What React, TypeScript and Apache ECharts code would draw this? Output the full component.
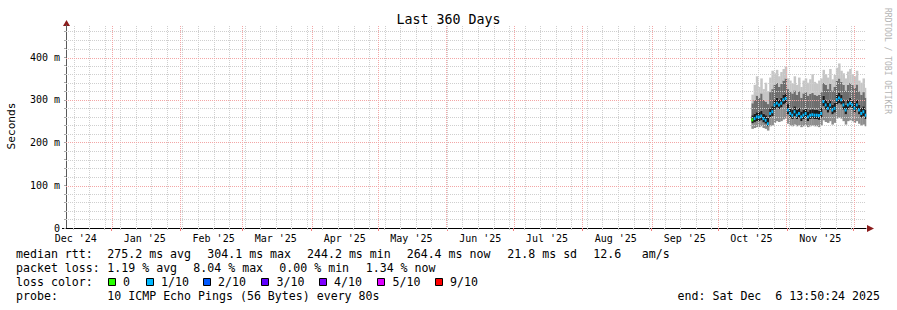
import React, { useEffect, useRef } from "react";
import * as echarts from "echarts";

const DAY_MS = 86400000;
const END_MS = Date.UTC(2025, 11, 6, 13, 50, 24);
const START_MS = END_MS - 360 * DAY_MS;
const FIRST_DAY_MS = Date.UTC(2025, 9, 16);

const monthLabels = ["Dec '24", "Jan '25", "Feb '25", "Mar '25", "Apr '25", "May '25", "Jun '25", "Jul '25", "Aug '25", "Sep '25", "Oct '25", "Nov '25"];
const yMinorGrid = [20, 40, 60, 80, 120, 140, 160, 180, 220, 240, 260, 280, 320, 340, 360, 380, 420, 440, 460];
const yMajorGrid = [100, 200, 300, 400];

// daily median rtt (ms), from Oct 16 2025
const medianRtt = [
  253, 256, 260, 260, 262, 256, 252, 244, 268, 272,
  288, 292, 288, 292, 300, 303, 276, 268, 264, 272,
  264, 268, 260, 264, 268, 260, 264, 265, 264, 264,
  263, 268, 296, 288, 280, 288, 276, 280, 300, 304,
  300, 288, 276, 288, 292, 288, 280, 288, 276, 268,
  272, 264,
];
// lost pings out of 10 (median colour)
const lossCount = [
  0, 1, 1, 1, 1, 1, 1, 1, 1, 1,
  1, 1, 1, 1, 1, 1, 1, 1, 1, 1,
  1, 1, 1, 1, 1, 1, 1, 1, 1, 1,
  1, 1, 1, 1, 1, 1, 1, 1, 1, 1,
  1, 1, 1, 1, 1, 1, 1, 1, 1, 1,
  1, 1,
];
// smoke band edges (ms)
const smokeMin = [
  232, 234, 236, 236, 238, 234, 232, 228, 238, 240,
  246, 250, 248, 250, 254, 256, 244, 240, 238, 242,
  238, 240, 236, 238, 240, 236, 238, 240, 238, 238,
  236, 240, 252, 248, 246, 250, 242, 246, 256, 258,
  256, 250, 242, 250, 252, 250, 246, 250, 244, 240,
  242, 238,
];
const smokeLow = [
  245, 247, 250, 250, 252, 247, 244, 238, 258, 262,
  277, 282, 278, 282, 289, 292, 266, 258, 255, 262,
  255, 258, 250, 255, 258, 250, 255, 256, 255, 255,
  253, 258, 285, 277, 270, 277, 266, 270, 289, 292,
  289, 277, 266, 277, 282, 277, 270, 277, 266, 258,
  262, 255,
];
const smokeHigh = [
  264, 268, 271, 272, 274, 268, 264, 258, 280, 285,
  300, 305, 300, 305, 312, 315, 290, 281, 277, 285,
  277, 281, 273, 277, 281, 273, 277, 278, 277, 277,
  275, 281, 309, 300, 293, 300, 289, 293, 312, 316,
  312, 300, 289, 300, 305, 300, 293, 300, 289, 281,
  285, 277,
];
const smokeUpper = [
  292, 300, 310, 305, 315, 300, 296, 290, 318, 325,
  335, 340, 330, 338, 345, 350, 325, 320, 315, 322,
  312, 320, 305, 315, 318, 310, 314, 316, 312, 310,
  312, 318, 340, 335, 325, 338, 322, 330, 345, 350,
  342, 335, 322, 335, 340, 335, 328, 336, 320, 312,
  318, 305,
];
const smokeMax = [
  312, 335, 355, 330, 350, 325, 340, 320, 352, 368,
  362, 370, 355, 365, 372, 378, 350, 345, 338, 355,
  335, 352, 330, 345, 350, 340, 348, 360, 342, 338,
  345, 350, 370, 360, 352, 372, 348, 358, 375, 385,
  368, 362, 350, 366, 372, 360, 355, 368, 345, 340,
  350, 328,
];

const lossLabels = ["0", "1/10", "2/10", "3/10", "4/10", "5/10", "9/10"];
const lossColors = ["#26ff00", "#00b8ff", "#0059ff", "#5e00ff", "#7e00ff", "#dd00ff", "#ff0000"];

const statsRtt = ["275.2 ms avg", "304.1 ms max", "244.2 ms min", "264.4 ms now", "21.8 ms sd", "12.6", "am/s"];
const statsLoss = ["1.19 % avg", "8.04 % max", "0.00 % min", "1.34 % now"];
const probeText = "10 ICMP Echo Pings (56 Bytes) every 80s";
const endText = "end: Sat Dec  6 13:50:24 2025";

const MONO = "DejaVu Sans Mono";

function buildOption() {
  const monthStarts: number[] = [];
  for (let i = 0; i < 14; i++) {
    const t = Date.UTC(2024, 11 + i, 1);
    if (t > START_MS && t < END_MS) monthStarts.push(t);
  }
  const weekLines: number[] = [];
  for (let t = Date.UTC(2024, 11, 15); t < END_MS; t += 7 * DAY_MS) {
    if (t > START_MS) weekLines.push(t);
  }
  const labelTimes: number[] = [];
  const labelMap = new Map<number, string>();
  monthLabels.forEach((lab, i) => {
    const t = Date.UTC(2024, 11 + i, 16);
    labelTimes.push(t);
    labelMap.set(t, lab);
  });

  const smokeData = medianRtt.map((_, i) => [
    FIRST_DAY_MS + i * DAY_MS,
    smokeMin[i],
    smokeLow[i],
    smokeHigh[i],
    smokeUpper[i],
    smokeMax[i],
  ]);
  const medianData = medianRtt.map((v, i) => [FIRST_DAY_MS + i * DAY_MS, v, lossCount[i]]);
  const gridData = [
    ...weekLines.map((t) => [t, 0, 0]),
    ...yMinorGrid.map((v) => [START_MS, v, 2]),
    ...monthStarts.map((t) => [t, 0, 1]),
    ...yMajorGrid.map((v) => [START_MS, v, 3]),
  ];
  const bandColors = ["#8e8e8e", "#1c1c1c", "#6e6e6e", "#c6c6c6"];

  const txt = (x: number, y: number, text: string, extra: any = {}) => ({
    type: "text",
    x,
    y,
    silent: true,
    style: {
      text,
      fill: "#000",
      fontFamily: MONO,
      fontSize: 11.6,
      align: "left",
      verticalAlign: "middle",
      ...extra,
    },
  });

  const rttX = [107.3, 207.3, 307, 406.7, 507.3, 593.3, 641.7];
  const lossX = [107.3, 193.3, 279.3, 365.7];
  const boxX = [108.5, 146.5, 203.5, 261.5, 319.5, 377.5, 435.5];
  const boxLabelX = [123, 161, 218, 276.5, 334, 392.5, 450];

  const graphics: any[] = [
    txt(448.5, 19, "Last 360 Days", { align: "center", fontSize: 13.3 }),
    {
      type: "text",
      x: 11,
      y: 126,
      rotation: Math.PI / 2,
      silent: true,
      style: { text: "Seconds", fill: "#000", fontFamily: MONO, fontSize: 11.2, align: "center", verticalAlign: "middle" },
    },
    {
      type: "text",
      x: 887,
      y: 61,
      rotation: -Math.PI / 2,
      silent: true,
      style: { text: "RRDTOOL / TOBI OETIKER", fill: "#b4b4b4", fontFamily: MONO, fontSize: 8, align: "center", verticalAlign: "middle" },
    },
    txt(16, 254.3, "median rtt:"),
    ...statsRtt.map((s, i) => txt(rttX[i], 254.3, s)),
    txt(16, 268.3, "packet loss:"),
    ...statsLoss.map((s, i) => txt(lossX[i], 268.3, s)),
    txt(16, 282.3, "loss color:"),
    ...lossLabels.map((s, i) => txt(boxLabelX[i], 282.3, s)),
    ...lossColors.map((c, i) => ({
      type: "rect",
      silent: true,
      shape: { x: boxX[i], y: 278.5, width: 7, height: 7 },
      style: { fill: c, stroke: "#000", lineWidth: 1 },
    })),
    txt(16, 296.3, "probe:"),
    txt(107.3, 296.3, probeText),
    txt(880, 296.3, endText, { align: "right" }),
    {
      type: "line",
      silent: true,
      shape: { x1: 62, y1: 228.5, x2: 67, y2: 228.5 },
      style: { stroke: "#000", lineWidth: 1 },
    },
    {
      type: "polygon",
      silent: true,
      shape: { points: [[63, 26], [66.5, 20], [70, 26]] },
      style: { fill: "#8b1c1c" },
    },
    {
      type: "polygon",
      silent: true,
      shape: { points: [[867, 225], [874, 228.5], [867, 232]] },
      style: { fill: "#8b1c1c" },
    },
  ];

  return {
    animation: false,
    backgroundColor: "#ffffff",
    grid: { left: 66, top: 25, width: 800, height: 203, containLabel: false },
    xAxis: [
      {
        type: "value",
        min: START_MS,
        max: END_MS,
        position: "bottom",
        axisLine: { show: true, onZero: false, lineStyle: { color: "#000", width: 1 } },
        axisTick: { show: true, customValues: monthStarts, length: 3, lineStyle: { color: "#f08080" } },
        axisLabel: {
          customValues: labelTimes,
          formatter: (v: number) => labelMap.get(v) ?? "",
          fontFamily: MONO,
          fontSize: 10,
          color: "#000",
          margin: 5,
        },
        splitLine: { show: false },
      },
      {
        type: "value",
        min: START_MS,
        max: END_MS,
        position: "bottom",
        offset: 0,
        axisLine: { show: false },
        axisTick: { show: true, customValues: weekLines, length: 2, lineStyle: { color: "#c4c4c4" } },
        axisLabel: { show: false },
        splitLine: { show: false },
      },
    ],
    yAxis: {
      type: "value",
      min: 0,
      max: 475,
      interval: 20,
      axisLine: { show: true, lineStyle: { color: "#5a5a5a", width: 1 } },
      axisTick: { show: true, length: 2, lineStyle: { color: "#a8a8a8" } },
      axisLabel: {
        formatter: (v: number) => (v === 0 ? "0" : v % 100 === 0 ? `${v} m` : ""),
        fontFamily: MONO,
        fontSize: 10,
        color: "#000",
        margin: 6,
        showMaxLabel: false,
      },
      splitLine: { show: false },
    },
    series: [
      {
        type: "custom",
        name: "smoke",
        z: 1,
        silent: true,
        data: smokeData,
        encode: { x: 0, y: [1, 2, 3, 4, 5] },
        renderItem: (_params: any, api: any) => {
          const t = api.value(0) as number;
          const t2 = Math.min(t + DAY_MS, END_MS);
          const vals = [1, 2, 3, 4, 5].map((k) => api.value(k) as number);
          const children: any[] = [];
          for (let k = 0; k < 4; k++) {
            const a = api.coord([t, vals[k + 1]]);
            const b = api.coord([t2, vals[k]]);
            children.push({
              type: "rect",
              shape: { x: a[0], y: a[1], width: b[0] - a[0] + 0.3, height: b[1] - a[1] },
              style: { fill: bandColors[k] },
            });
          }
          return { type: "group", children };
        },
      },
      {
        type: "custom",
        name: "grid",
        z: 3,
        silent: true,
        data: gridData,
        encode: { x: 0, y: 1 },
        renderItem: (params: any, api: any) => {
          const kind = api.value(2) as number;
          const cs = params.coordSys;
          const major = kind === 1 || kind === 3;
          const color = major ? "#f3a6a6" : "#cfcfcf";
          const snap = (p: number) => (major ? 2 * Math.round(p / 2) : Math.round(p)) + 0.5;
          if (kind === 0 || kind === 1) {
            const p = api.coord([api.value(0), 0]);
            const x = snap(p[0]);
            const top = 2 * Math.ceil(cs.y / 2);
            return {
              type: "line",
              shape: { x1: x, y1: top, x2: x, y2: cs.y + cs.height },
              style: { stroke: color, lineWidth: 1, lineDash: [1, 1] },
            };
          }
          const p = api.coord([START_MS, api.value(1)]);
          const y = snap(p[1]);
          const left = 2 * Math.ceil(cs.x / 2);
          return {
            type: "line",
            shape: { x1: left, y1: y, x2: cs.x + cs.width, y2: y },
            style: { stroke: color, lineWidth: 1, lineDash: [1, 1] },
          };
        },
      },
      {
        type: "custom",
        name: "median",
        z: 6,
        silent: true,
        data: medianData,
        encode: { x: 0, y: 1 },
        renderItem: (_params: any, api: any) => {
          const t = api.value(0) as number;
          const t2 = Math.min(t + DAY_MS, END_MS);
          const v = api.value(1) as number;
          const loss = api.value(2) as number;
          const a = api.coord([t, v]);
          const b = api.coord([t2, v]);
          return {
            type: "rect",
            shape: { x: a[0], y: a[1] - 1.5, width: Math.max(1.5, b[0] - a[0] - 0.4), height: 3 },
            style: { fill: lossColors[Math.min(loss, 6)] },
          };
        },
      },
    ],
    graphic: graphics,
  };
}

export default function App() {
  const ref = useRef<HTMLDivElement>(null);
  useEffect(() => {
    if (!ref.current) return;
    const chart = echarts.init(ref.current, null, { renderer: "svg" });
    chart.setOption(buildOption() as any);
    return () => chart.dispose();
  }, []);
  return (
    <div
      ref={ref}
      style={{ position: "fixed", left: 0, top: 0, width: 897, height: 310, background: "#fff" }}
    />
  );
}
